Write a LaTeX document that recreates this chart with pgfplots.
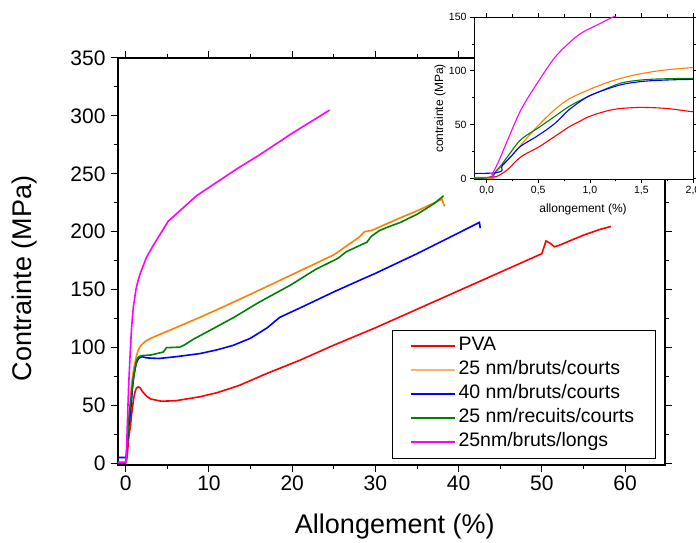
\documentclass[border=0pt]{standalone}
\usepackage{fontspec}
\setmainfont{Liberation Sans}
\usepackage{pgfplots}
\usepackage{pgfplotstable}
\pgfplotsset{compat=1.18}
\definecolor{cred}{RGB}{255,0,0}
\definecolor{corange}{RGB}{255,128,0}
\definecolor{cblue}{RGB}{0,0,255}
\definecolor{cgreen}{RGB}{0,128,0}
\definecolor{cmag}{RGB}{255,0,255}

\pgfplotstableread{
x y
-1 0.5
-0.1 0.5
0 0.5
0.1 2
0.2 8
0.33 20
0.5 29
0.66 39
0.8 48
0.9 53
0.98 57
1.1 61
1.2 63.5
1.3 65
1.5 66
1.75 65
2.0 62
2.5 58
3 55.5
4.3 53.6
6 54
8.9 57.4
11 61
13.7 67.4
16.9 77.4
20.9 88.9
25 102
30 117
35 133
40 149
45 165
50 181
50.5 192
51 190
51.5 187
52 188
53 191
55 197
57 202
58.3 204.5
}\redtab

\pgfplotstableread{
x y
-1 0
0 0
0.05 2
0.14 11
0.25 22
0.43 42
0.55 54
0.66 64
0.8 74
0.98 82
1.15 88.5
1.3 93
1.45 96.5
1.63 99.5
1.8 101.5
2 103
2.4 105.5
2.9 107.6
5 114
8.9 126
12 136
15 146
20.9 166
25 180
28 195
28.7 200
29.5 201
30 202.5
33 212
35 218
38 228
38.3 222
}\orangetab

\pgfplotstableread{
x y
-1 5
0.05 5
0.15 12
0.25 22
0.33 30
0.5 40
0.66 51
0.8 64
0.98 76
1.15 82.5
1.3 87
1.45 89.5
1.63 91
2 92
2.5 91
4 90.5
6 92
8.9 94.7
11 98
12.9 101.8
15 108
17 117
18.5 126
20 131
20.9 134
25 148
28.1 158
30 164
35 181
40 199
42.5 208
42.6 203
}\bluetab

\pgfplotstableread{
x y
-1 0
-0.05 0
0.1 8
0.2 20
0.33 36
0.5 47
0.65 57
0.8 67
0.98 76
1.15 83
1.3 88.6
1.45 91
1.63 92.3
2 93
3 93.5
4.5 96
4.9 99.8
6.5 100.3
7 102
8.1 107
10.1 114.7
13 126
16 139
19.7 153.5
20.5 157
22.9 167.8
24.1 172
25.5 177
26.5 182.7
28.1 188
29 191
29.5 196
30.5 201
31.5 204
33 208
35 215
37 224
38.2 231
}\greentab

\pgfplotstableread{
x y
-1 1
0 1
0.05 4
0.107 14
0.2 35
0.333 64
0.5 90
0.657 112
0.8 126
0.916 135
1.1 144
1.24 150.6
1.45 157
1.7 163
2.5 178
3.3 188
5.1 209
8.5 231
13.3 254
16 266
20 285
24.5 305
}\magtab

\begin{document}
\begin{tikzpicture}
\begin{axis}[
  at={(0pt,0pt)}, anchor=south west,
  scale only axis, width=547pt, height=407pt,
  xmin=-0.93, xmax=64.8, ymin=-1.5, ymax=350,
  xtick={0,10,...,60}, minor x tick num=1,
  ytick={0,50,...,350}, minor y tick num=1,
  tick align=outside, major tick length=7pt, minor tick length=4pt,
  axis line style={line width=1.1pt},
  every tick/.style={line width=1pt, black},
  /pgf/number format/assume math mode=true,
  ticklabel style={font=\fontsize{21}{25}\selectfont},
  yticklabel style={xshift=-2pt},
  xlabel={Allongement (\%)}, ylabel={Contrainte (MPa)},
  label style={font=\fontsize{27}{32}\selectfont},
  xlabel style={at={(axis description cs:0.506,-0.152)}, anchor=center},
  ylabel style={at={(axis description cs:-0.170,0.458)}, anchor=center},
  legend cell align=left,
  legend image code/.code={\draw[#1] (0pt,0pt) -- (44pt,0pt);},
  legend style={at={(axis description cs:0.501,0.017)}, anchor=south west,
    font=\fontsize{19.5}{23}\selectfont,
    inner xsep=18pt, inner ysep=4pt, row sep=0pt,
    nodes={inner sep=3pt, text height=14pt, text depth=4pt}},
  every axis plot/.append style={line width=1.6pt},
]
\addlegendimage{cred, line width=1.3pt}
\addlegendentry{PVA}
\addlegendimage{corange!60, line width=1.3pt}
\addlegendentry{25 nm/bruts/courts}
\addlegendimage{cblue, line width=1.3pt}
\addlegendentry{40 nm/bruts/courts}
\addlegendimage{cgreen, line width=1.3pt}
\addlegendentry{25 nm/recuits/courts}
\addlegendimage{cmag, line width=1.3pt}
\addlegendentry{25nm/bruts/longs}
\addplot[cred, forget plot] table {\redtab};
\addplot[corange, forget plot] table {\orangetab};
\addplot[cblue, forget plot] table {\bluetab};
\addplot[cgreen, forget plot] table {\greentab};
\addplot[cmag, forget plot] table {\magtab};
\end{axis}
\begin{axis}[
  at={(356pt,286pt)}, anchor=south west,
  scale only axis, width=219pt, height=162pt,
  xmin=-0.123, xmax=2.0, ymin=-0.5, ymax=150,
  axis background/.style={fill=white},
  xtick={0,0.5,1,1.5,2}, minor x tick num=1,
  ytick={0,50,100,150}, minor y tick num=1,
  tick align=outside, major tick length=4pt, minor tick length=2.5pt,
  axis line style={line width=0.8pt},
  every tick/.style={line width=0.7pt, black},
  /pgf/number format/assume math mode=true,
  xticklabel style={/pgf/number format/.cd, use comma, fixed, fixed zerofill, precision=1},
  ticklabel style={font=\fontsize{10.5}{12}\selectfont},
  xlabel={allongement (\%)}, ylabel={contrainte (MPa)},
  label style={font=\fontsize{12}{14}\selectfont},
  xlabel style={at={(axis description cs:0.498,-0.185)}, anchor=center},
  ylabel style={at={(axis description cs:-0.155,0.435)}, anchor=center},
  every axis plot/.append style={line width=1.1pt, smooth},
]
\addplot[cred] table {\redtab};
\addplot[corange] table {\orangetab};
\addplot[cgreen] table {\greentab};
\addplot[cblue] table {\bluetab};
\addplot[cmag] table {\magtab};
\end{axis}
\pgfresetboundingbox
\useasboundingbox (-118pt,-78pt) rectangle (578pt,465pt);
\end{tikzpicture}
\end{document}
